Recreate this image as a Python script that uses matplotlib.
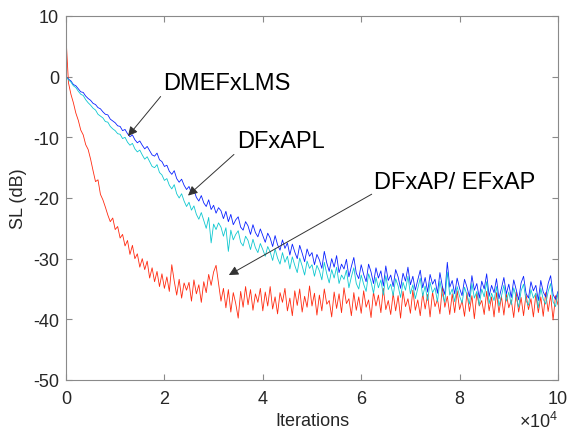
import numpy as np
import matplotlib
matplotlib.use("Agg")
import matplotlib.pyplot as plt

plt.rcParams['font.family'] = ['Liberation Sans', 'DejaVu Sans']
plt.rcParams['axes.unicode_minus'] = False
plt.rcParams['mathtext.fontset'] = 'custom'
plt.rcParams['mathtext.rm'] = 'Liberation Sans'
plt.rcParams['mathtext.it'] = 'Liberation Sans'

# SL (dB) sampled every 0.05 x 10^4 iterations, from 0 to 10 x 10^4
dmefxlms = [
    0.0, -0.4, -0.7, -1.3, -1.5, -2.0, -2.5, -2.6, -3.2, -3.6,
    -3.9, -4.4, -4.6, -5.1, -5.3, -5.8, -6.2, -6.3, -7.0, -7.3, -7.6,
    -8.1, -8.2, -8.9, -8.7, -9.4, -9.9, -9.6, -10.4, -10.9, -10.6,
    -11.3, -11.9, -11.5, -12.2, -12.9, -13.1, -12.6, -13.7, -14.0, -14.8,
    -14.6, -15.6, -16.1, -15.5, -16.8, -17.4, -16.9, -17.9, -18.6, -18.1,
    -19.2, -18.7, -19.9, -20.5, -19.6, -20.8, -21.4, -20.3, -21.9, -21.2,
    -22.5, -21.6, -22.1, -23.4, -22.2, -23.9, -22.7, -24.4, -23.6, -23.1,
    -24.8, -25.3, -23.9, -24.6, -26.0, -24.4, -25.7, -26.4, -25.1, -26.2,
    -27.3, -25.8, -26.6, -28.0, -26.2, -27.7, -28.6, -26.9, -28.3, -27.4,
    -29.4, -27.6, -28.9, -30.0, -27.8, -29.1, -30.5, -28.4, -29.6, -29.0,
    -31.0, -29.3, -30.2, -31.6, -28.8, -30.7, -32.1, -30.0, -31.4, -29.5,
    -32.3, -30.9, -31.7, -30.1, -33.0, -31.3, -29.8, -32.4, -33.3, -31.0,
    -32.6, -33.8, -30.9, -32.2, -34.1, -31.5, -33.2, -32.0, -34.5, -31.2,
    -33.6, -32.7, -34.6, -31.8, -33.0, -34.9, -32.4, -33.7, -31.4, -34.3,
    -32.9, -35.2, -33.5, -31.9, -34.8, -33.1, -35.5, -32.6, -34.2, -33.4,
    -35.7, -32.3, -34.6, -35.9, -30.6, -34.7, -33.6, -35.8, -33.2, -34.9,
    -36.1, -33.4, -34.7, -36.3, -32.8, -35.2, -34.1, -36.5, -33.7, -35.0,
    -32.5, -36.2, -34.4, -35.6, -33.3, -36.6, -34.9, -33.1, -35.8, -34.2,
    -36.4, -33.5, -35.1, -36.8, -34.0, -32.9, -35.7, -36.5, -33.8, -35.3,
    -34.4, -36.9, -33.6, -35.5, -36.3, -34.1, -32.8, -35.9, -36.7, -35.4,
]

dfxapl = [
    0.0, -0.5, -0.9, -1.5, -1.8, -2.4, -2.9, -3.1, -3.8, -4.3,
    -4.7, -5.2, -5.5, -6.2, -6.5, -6.8, -7.4, -7.5, -8.2, -8.6, -8.9,
    -9.4, -9.5, -10.2, -10.0, -10.8, -11.3, -11.0, -11.9, -12.4, -12.1,
    -12.9, -13.6, -13.2, -14.0, -14.8, -15.0, -14.5, -15.8, -16.2, -17.1,
    -16.8, -17.9, -18.5, -17.8, -19.3, -20.0, -19.3, -20.5, -21.4, -20.7,
    -22.0, -21.3, -22.7, -23.5, -22.4, -23.7, -25.0, -23.2, -27.4, -24.3,
    -25.2, -24.1, -24.8, -26.3, -24.9, -28.8, -25.3, -26.9, -26.0, -25.4,
    -27.3, -27.9, -26.3, -27.0, -28.5, -26.8, -28.2, -29.0, -27.5, -28.5,
    -29.6, -28.0, -28.9, -30.3, -28.4, -29.9, -30.9, -29.0, -30.6, -29.6,
    -31.7, -29.7, -31.1, -32.3, -29.9, -31.2, -32.7, -30.4, -31.6, -31.0,
    -32.9, -31.1, -32.0, -33.5, -30.6, -32.5, -34.0, -31.8, -33.2, -31.4,
    -34.1, -32.7, -33.4, -31.9, -34.8, -33.0, -31.5, -34.1, -35.0, -32.7,
    -34.2, -35.4, -32.5, -33.8, -35.7, -33.1, -34.8, -33.5, -36.0, -32.8,
    -35.1, -34.2, -36.1, -33.3, -34.5, -36.4, -33.9, -35.2, -32.9, -35.8,
    -34.3, -36.6, -34.9, -33.2, -36.2, -34.5, -36.9, -33.9, -35.6, -34.8,
    -37.1, -33.7, -35.9, -37.2, -32.2, -36.0, -35.0, -37.1, -34.6, -36.2,
    -37.3, -34.7, -36.0, -37.5, -34.1, -36.5, -35.4, -37.7, -35.0, -36.3,
    -33.8, -37.4, -35.7, -36.9, -34.6, -37.8, -36.2, -34.4, -37.0, -35.5,
    -37.6, -34.8, -36.4, -38.0, -35.3, -34.2, -36.9, -37.7, -35.1, -36.5,
    -35.7, -38.1, -34.9, -36.7, -37.5, -35.4, -34.1, -37.1, -37.9, -35.7,
]

dfxap = [
    6.5, -1.0, -2.9, -4.3, -6.0, -7.2, -8.8, -9.6, -11.2, -12.0,
    -13.6, -15.5, -17.3, -17.0, -19.4, -20.3, -21.5, -22.8, -23.9, -23.3, -25.2,
    -24.7, -26.6, -26.0, -27.9, -27.0, -29.3, -27.8, -30.0, -29.2, -31.4,
    -30.0, -31.8, -30.4, -33.2, -31.5, -33.8, -32.1, -34.6, -32.5, -34.9,
    -33.0, -35.4, -31.0, -33.7, -36.0, -33.4, -36.5, -34.0, -35.2, -33.9,
    -37.0, -33.5, -35.8, -34.3, -37.2, -33.8, -35.6, -32.6, -34.4, -32.2,
    -31.1, -34.0, -37.0, -34.9, -38.1, -35.1, -38.8, -35.6, -37.4, -39.8,
    -35.4, -38.0, -34.6, -37.6, -35.1, -38.5, -35.8, -37.2, -34.9, -38.6,
    -35.5, -37.8, -34.6, -38.3, -36.3, -39.1, -35.6, -37.2, -34.9, -38.6,
    -36.5, -39.4, -35.3, -37.7, -35.0, -38.8, -36.2, -38.0, -34.5, -37.8,
    -35.7, -39.3, -36.0, -38.6, -35.0, -37.5, -36.9, -39.6, -35.5, -38.2,
    -35.8, -38.9, -34.8, -37.4, -36.6, -39.4, -35.6, -38.5, -36.3, -39.0,
    -35.3, -38.0, -36.8, -39.7, -35.5, -37.8, -36.0, -38.9, -34.9, -38.4,
    -36.9, -39.2, -35.7, -38.6, -36.1, -39.8, -35.4, -37.9, -36.6, -39.0,
    -35.2, -38.5, -36.8, -39.4, -35.7, -38.3, -35.9, -39.6, -35.5, -37.9,
    -36.7, -39.1, -34.6, -38.0, -36.2, -39.2, -35.8, -38.9, -35.3, -38.4,
    -36.9, -39.5, -35.6, -38.7, -36.1, -39.9, -35.7, -37.8, -36.9, -39.2,
    -35.4, -38.6, -36.3, -39.6, -35.6, -38.9, -36.2, -39.3, -35.8, -38.1,
    -36.8, -39.7, -35.5, -38.8, -36.4, -39.4, -35.9, -38.4, -36.6, -39.6,
    -35.8, -38.9, -36.3, -39.5, -35.6, -38.7, -36.0, -40.1, -36.1, -37.6,
]

x_ticks = [0, 2, 4, 6, 8, 10]
y_ticks = [-50, -40, -30, -20, -10, 0, 10]


def iters(series):
    return np.linspace(0, 10, len(series))


fig = plt.figure(figsize=(5.7, 4.35), dpi=100)
ax = fig.add_axes([66/570, 1 - 381/435, 492/570, 364/435])

ax.plot(iters(dfxap), dfxap, color='#ff2a10', lw=0.6)
ax.plot(iters(dmefxlms), dmefxlms, color='#0a22ff', lw=0.6)
ax.plot(iters(dfxapl), dfxapl, color='#10c8d0', lw=0.6)

ax.set_xlim(0, 10)
ax.set_ylim(-50, 10)
ax.set_xticks(x_ticks)
ax.set_yticks(y_ticks)
ax.set_xticklabels([str(v) for v in x_ticks])
ax.set_yticklabels([str(v) for v in y_ticks])

spine_col = '#8a8a8a'
for s in ax.spines.values():
    s.set_color(spine_col)
    s.set_linewidth(0.8)
ax.tick_params(direction='in', top=True, right=True, length=4, width=0.8,
               color=spine_col, labelcolor='#262626', labelsize=13)
ax.tick_params(axis='x', pad=7)
ax.tick_params(axis='y', pad=5)

ax.set_xlabel('Iterations', fontsize=13, color='#262626', labelpad=4)
ax.set_ylabel('SL (dB)', fontsize=13, color='#262626', labelpad=4)

fig.text(558/570, 1 - 428/435, r'$\times10^{4}$', ha='right', va='baseline',
         fontsize=13, color='#262626')

arrow = dict(arrowstyle='-|>', color='#333333', lw=0.7, mutation_scale=14,
             shrinkA=0, shrinkB=0)
ax.annotate('DMEFxLMS', xy=(1.26, -9.8), xytext=(1.97, -1.0),
            fontsize=17, ha='left', va='center', color='black',
            arrowprops=dict(arrow, relpos=(0, 0)))
ax.annotate('DFxAPL', xy=(2.48, -19.6), xytext=(3.47, -10.6),
            fontsize=17, ha='left', va='center', color='black',
            arrowprops=dict(arrow, relpos=(0, 0)))
ax.annotate('DFxAP/ EFxAP', xy=(3.31, -32.7), xytext=(6.27, -17.3),
            fontsize=17, ha='left', va='center', color='black',
            arrowprops=dict(arrow, relpos=(0, 0)))

fig.savefig('out.png', dpi=100)
